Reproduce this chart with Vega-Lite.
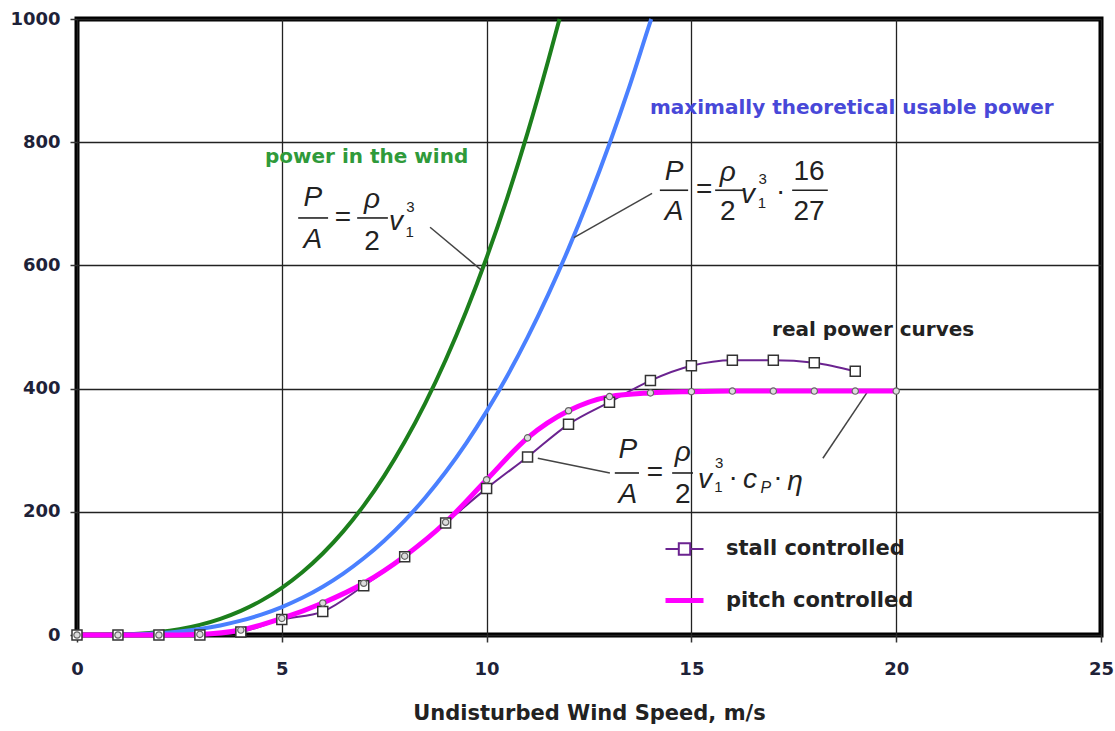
{
  "$schema": "https://vega.github.io/schema/vega-lite/v6.json",
  "width": 1024,
  "height": 616,
  "autosize": "none",
  "padding": {"left": 77, "top": 19, "right": 14, "bottom": 96},
  "background": "white",
  "config": {
    "view": {"stroke": "black", "strokeWidth": 5},
    "axis": {
      "grid": true, "gridColor": "#222", "gridWidth": 1.3, "domain": false,
      "ticks": true, "tickColor": "#333", "tickWidth": 1.5, "tickSize": 7,
      "labelFont": "DejaVu Sans", "labelFontWeight": "bold", "labelFontSize": 18, "labelColor": "#1e2238",
      "titleFont": "DejaVu Sans", "titleFontWeight": "bold", "titleFontSize": 21, "titleColor": "#222"
    }
  },
  "datasets": {
    "theory": [
      {"v": 0, "p": 0, "c": "wind"}, {"v": 0.5, "p": 0.08, "c": "wind"}, {"v": 1, "p": 0.61, "c": "wind"}, {"v": 1.5, "p": 2.07, "c": "wind"},
      {"v": 2, "p": 4.9, "c": "wind"}, {"v": 2.5, "p": 9.57, "c": "wind"}, {"v": 3, "p": 16.5, "c": "wind"}, {"v": 3.5, "p": 26.3, "c": "wind"},
      {"v": 4, "p": 39.2, "c": "wind"}, {"v": 4.5, "p": 55.8, "c": "wind"}, {"v": 5, "p": 76.6, "c": "wind"}, {"v": 5.5, "p": 101.9, "c": "wind"},
      {"v": 6, "p": 132.3, "c": "wind"}, {"v": 6.5, "p": 168.2, "c": "wind"}, {"v": 7, "p": 210.1, "c": "wind"}, {"v": 7.5, "p": 258.4, "c": "wind"},
      {"v": 8, "p": 313.6, "c": "wind"}, {"v": 8.5, "p": 376.1, "c": "wind"}, {"v": 9, "p": 446.5, "c": "wind"}, {"v": 9.5, "p": 525.2, "c": "wind"},
      {"v": 10, "p": 612.5, "c": "wind"}, {"v": 10.5, "p": 709, "c": "wind"}, {"v": 11, "p": 815.2, "c": "wind"}, {"v": 11.5, "p": 931.4, "c": "wind"},
      {"v": 11.78, "p": 1000, "c": "wind"},
      {"v": 0, "p": 0, "c": "betz"}, {"v": 0.5, "p": 0.05, "c": "betz"}, {"v": 1, "p": 0.36, "c": "betz"}, {"v": 1.5, "p": 1.23, "c": "betz"},
      {"v": 2, "p": 2.9, "c": "betz"}, {"v": 2.5, "p": 5.67, "c": "betz"}, {"v": 3, "p": 9.8, "c": "betz"}, {"v": 3.5, "p": 15.56, "c": "betz"},
      {"v": 4, "p": 23.23, "c": "betz"}, {"v": 4.5, "p": 33.08, "c": "betz"}, {"v": 5, "p": 45.37, "c": "betz"}, {"v": 5.5, "p": 60.39, "c": "betz"},
      {"v": 6, "p": 78.4, "c": "betz"}, {"v": 6.5, "p": 99.68, "c": "betz"}, {"v": 7, "p": 124.5, "c": "betz"}, {"v": 7.5, "p": 153.1, "c": "betz"},
      {"v": 8, "p": 185.8, "c": "betz"}, {"v": 8.5, "p": 222.9, "c": "betz"}, {"v": 9, "p": 264.6, "c": "betz"}, {"v": 9.5, "p": 311.2, "c": "betz"},
      {"v": 10, "p": 363, "c": "betz"}, {"v": 10.5, "p": 420.2, "c": "betz"}, {"v": 11, "p": 483.1, "c": "betz"}, {"v": 11.5, "p": 552.1, "c": "betz"},
      {"v": 12, "p": 627.2, "c": "betz"}, {"v": 12.5, "p": 708.9, "c": "betz"}, {"v": 13, "p": 797.4, "c": "betz"}, {"v": 13.5, "p": 893, "c": "betz"},
      {"v": 14, "p": 996, "c": "betz"}, {"v": 14.02, "p": 1000, "c": "betz"}
    ],
    "real": [
      {"v": 0, "p": 0, "series": "stall controlled"}, {"v": 1, "p": 0, "series": "stall controlled"}, {"v": 2, "p": 0, "series": "stall controlled"},
      {"v": 3, "p": 0, "series": "stall controlled"}, {"v": 4, "p": 5, "series": "stall controlled"}, {"v": 5, "p": 25, "series": "stall controlled"},
      {"v": 6, "p": 38, "series": "stall controlled"}, {"v": 7, "p": 80, "series": "stall controlled"}, {"v": 8, "p": 127, "series": "stall controlled"},
      {"v": 9, "p": 182, "series": "stall controlled"}, {"v": 10, "p": 238, "series": "stall controlled"}, {"v": 11, "p": 289, "series": "stall controlled"},
      {"v": 12, "p": 342, "series": "stall controlled"}, {"v": 13, "p": 378, "series": "stall controlled"}, {"v": 14, "p": 413, "series": "stall controlled"},
      {"v": 15, "p": 437, "series": "stall controlled"}, {"v": 16, "p": 446, "series": "stall controlled"}, {"v": 17, "p": 446, "series": "stall controlled"},
      {"v": 18, "p": 442, "series": "stall controlled"}, {"v": 19, "p": 428, "series": "stall controlled"},
      {"v": 0, "p": 0, "series": "pitch controlled"}, {"v": 1, "p": 0, "series": "pitch controlled"}, {"v": 2, "p": 0, "series": "pitch controlled"},
      {"v": 3, "p": 1, "series": "pitch controlled"}, {"v": 4, "p": 8, "series": "pitch controlled"}, {"v": 5, "p": 27, "series": "pitch controlled"},
      {"v": 6, "p": 52, "series": "pitch controlled"}, {"v": 7, "p": 84, "series": "pitch controlled"}, {"v": 8, "p": 128, "series": "pitch controlled"},
      {"v": 9, "p": 183, "series": "pitch controlled"}, {"v": 10, "p": 252, "series": "pitch controlled"}, {"v": 11, "p": 320, "series": "pitch controlled"},
      {"v": 12, "p": 364, "series": "pitch controlled"}, {"v": 13, "p": 387, "series": "pitch controlled"}, {"v": 14, "p": 393, "series": "pitch controlled"},
      {"v": 15, "p": 395, "series": "pitch controlled"}, {"v": 16, "p": 396, "series": "pitch controlled"}, {"v": 17, "p": 396, "series": "pitch controlled"},
      {"v": 18, "p": 396, "series": "pitch controlled"}, {"v": 19, "p": 396, "series": "pitch controlled"}, {"v": 20, "p": 396, "series": "pitch controlled"}
    ],
    "labels": [
      {"x": 4.59, "y": 776, "t": "power in the wind", "cls": "green"},
      {"x": 13.99, "y": 855, "t": "maximally theoretical usable power", "cls": "blue"},
      {"x": 16.97, "y": 495, "t": "real power curves", "cls": "black"}
    ],
    "formula": [
      {"x": 5.76, "y": 709, "t": "P", "part": "var"}, {"x": 5.76, "y": 641, "t": "A", "part": "var"},
      {"x": 6.49, "y": 677, "t": "=", "part": "op"}, {"x": 7.2, "y": 706, "t": "ρ", "part": "var"},
      {"x": 7.2, "y": 638, "t": "2", "part": "num"}, {"x": 7.79, "y": 670, "t": "v", "part": "var"},
      {"x": 8.14, "y": 694, "t": "3", "part": "script"}, {"x": 8.12, "y": 655, "t": "1", "part": "script"},
      {"x": 14.58, "y": 752, "t": "P", "part": "var"}, {"x": 14.58, "y": 687, "t": "A", "part": "var"},
      {"x": 15.31, "y": 722, "t": "=", "part": "op"}, {"x": 15.89, "y": 750, "t": "ρ", "part": "var"},
      {"x": 15.89, "y": 687, "t": "2", "part": "num"}, {"x": 16.38, "y": 714, "t": "v", "part": "var"},
      {"x": 16.74, "y": 740, "t": "3", "part": "script"}, {"x": 16.72, "y": 701, "t": "1", "part": "script"},
      {"x": 17.18, "y": 719, "t": "·", "part": "op"}, {"x": 17.87, "y": 752, "t": "16", "part": "num"},
      {"x": 17.87, "y": 687, "t": "27", "part": "num"},
      {"x": 13.45, "y": 300, "t": "P", "part": "var"}, {"x": 13.45, "y": 227, "t": "A", "part": "var"},
      {"x": 14.11, "y": 263, "t": "=", "part": "op"}, {"x": 14.79, "y": 295, "t": "ρ", "part": "var"},
      {"x": 14.79, "y": 227, "t": "2", "part": "num"}, {"x": 15.33, "y": 252, "t": "v", "part": "var"},
      {"x": 15.68, "y": 279, "t": "3", "part": "script"}, {"x": 15.66, "y": 240, "t": "1", "part": "script"},
      {"x": 16.02, "y": 255, "t": "·", "part": "op"}, {"x": 16.43, "y": 252, "t": "c", "part": "var"},
      {"x": 16.82, "y": 238, "t": "P", "part": "svar"}, {"x": 17.11, "y": 255, "t": "·", "part": "op"},
      {"x": 17.53, "y": 248, "t": "η", "part": "var"}
    ],
    "bars": [
      {"x": 5.4, "x2": 6.13, "y": 677}, {"x": 6.84, "x2": 7.59, "y": 677},
      {"x": 14.23, "x2": 14.92, "y": 722}, {"x": 15.58, "x2": 16.31, "y": 722}, {"x": 17.46, "x2": 18.33, "y": 722},
      {"x": 13.13, "x2": 13.72, "y": 263}, {"x": 14.53, "x2": 15.04, "y": 263}
    ],
    "leaders": [
      {"x": 8.62, "y": 662, "x2": 9.88, "y2": 592},
      {"x": 14.04, "y": 717, "x2": 12.13, "y2": 645},
      {"x": 11.25, "y": 287, "x2": 13.01, "y2": 263},
      {"x": 18.21, "y": 287, "x2": 19.29, "y2": 394}
    ]
  },
  "encoding": {
    "x": {"field": "v", "type": "quantitative", "scale": {"domain": [0, 25], "nice": false},
          "axis": {"values": [0, 5, 10, 15, 20, 25], "title": "Undisturbed Wind Speed, m/s", "labelPadding": 18, "titlePadding": 24, "labelFlush": false}},
    "y": {"field": "p", "type": "quantitative", "scale": {"domain": [0, 1000], "nice": false},
          "axis": {"values": [0, 200, 400, 600, 800, 1000], "format": "d", "title": null, "labelPadding": 10}}
  },
  "layer": [
    {
      "data": {"name": "theory"},
      "transform": [{"filter": "datum.c === 'wind'"}],
      "mark": {"type": "line", "color": "#1c7f1c", "strokeWidth": 4, "interpolate": "monotone"}
    },
    {
      "data": {"name": "theory"},
      "transform": [{"filter": "datum.c === 'betz'"}],
      "mark": {"type": "line", "color": "#4a80ff", "strokeWidth": 4, "interpolate": "monotone"}
    },
    {
      "data": {"name": "leaders"},
      "mark": {"type": "rule", "color": "#444", "strokeWidth": 1.5},
      "encoding": {
        "x": {"field": "x", "type": "quantitative"}, "y": {"field": "y", "type": "quantitative"},
        "x2": {"field": "x2"}, "y2": {"field": "y2"}
      }
    },
    {
      "data": {"name": "real"},
      "mark": {"type": "line", "interpolate": "monotone"},
      "encoding": {
        "color": {"field": "series", "type": "nominal",
          "scale": {"domain": ["pitch controlled", "stall controlled"], "range": ["#ff00ff", "#6b2390"]},
          "legend": {
            "orient": "none", "legendX": 586, "legendY": 510, "title": null, "padding": 0,
            "values": ["stall controlled", "pitch controlled"],
            "symbolSize": 1444, "rowPadding": 20, "labelOffset": 20, "labelLimit": 400,
            "symbolFillColor": "white",
            "labelFont": "DejaVu Sans", "labelFontWeight": "bold", "labelFontSize": 21, "labelColor": "#222",
            "encode": {"symbols": {"update": {
              "shape": {"signal": "datum.value === 'stall controlled' ? 'M-1,0H-0.3M0.3,0H1M-0.3,-0.3H0.3V0.3H-0.3Z' : 'M-1,0H1'"},
              "strokeWidth": {"signal": "datum.value === 'stall controlled' ? 2 : 5"},
              "fill": {"value": "white"}
            }}}
          }
        },
        "strokeWidth": {"field": "series", "type": "nominal",
          "scale": {"domain": ["pitch controlled", "stall controlled"], "range": [5, 2]}, "legend": null}
      }
    },
    {
      "data": {"name": "real"},
      "transform": [{"filter": "datum.series === 'stall controlled'"}],
      "mark": {"type": "point", "shape": "square", "filled": true, "fill": "white", "stroke": "#333", "strokeWidth": 1.5, "size": 100, "opacity": 1}
    },
    {
      "data": {"name": "real"},
      "transform": [{"filter": "datum.series === 'pitch controlled'"}],
      "mark": {"type": "point", "shape": "circle", "filled": true, "fill": "#ddd", "stroke": "#666", "strokeWidth": 1.2, "size": 40, "opacity": 1}
    },
    {
      "data": {"name": "labels"},
      "transform": [{"filter": "datum.cls === 'green'"}],
      "mark": {"type": "text", "align": "left", "baseline": "middle", "font": "DejaVu Sans", "fontWeight": "bold", "fontSize": 20, "color": "#2f9a3a"},
      "encoding": {"x": {"field": "x", "type": "quantitative"}, "y": {"field": "y", "type": "quantitative"}, "text": {"field": "t"}}
    },
    {
      "data": {"name": "labels"},
      "transform": [{"filter": "datum.cls === 'blue'"}],
      "mark": {"type": "text", "align": "left", "baseline": "middle", "font": "DejaVu Sans", "fontWeight": "bold", "fontSize": 20, "color": "#4848d8"},
      "encoding": {"x": {"field": "x", "type": "quantitative"}, "y": {"field": "y", "type": "quantitative"}, "text": {"field": "t"}}
    },
    {
      "data": {"name": "labels"},
      "transform": [{"filter": "datum.cls === 'black'"}],
      "mark": {"type": "text", "align": "left", "baseline": "middle", "font": "DejaVu Sans", "fontWeight": "bold", "fontSize": 20, "color": "#222"},
      "encoding": {"x": {"field": "x", "type": "quantitative"}, "y": {"field": "y", "type": "quantitative"}, "text": {"field": "t"}}
    },
    {
      "data": {"name": "formula"},
      "transform": [{"filter": "datum.part === 'var'"}],
      "mark": {"type": "text", "align": "center", "baseline": "middle", "font": "Liberation Sans", "fontStyle": "italic", "fontSize": 28, "color": "#222"},
      "encoding": {"x": {"field": "x", "type": "quantitative"}, "y": {"field": "y", "type": "quantitative"}, "text": {"field": "t"}}
    },
    {
      "data": {"name": "formula"},
      "transform": [{"filter": "datum.part === 'num' || datum.part === 'op'"}],
      "mark": {"type": "text", "align": "center", "baseline": "middle", "font": "Liberation Sans", "fontSize": 28, "color": "#222"},
      "encoding": {"x": {"field": "x", "type": "quantitative"}, "y": {"field": "y", "type": "quantitative"}, "text": {"field": "t"}}
    },
    {
      "data": {"name": "formula"},
      "transform": [{"filter": "datum.part === 'script'"}],
      "mark": {"type": "text", "align": "center", "baseline": "middle", "font": "Liberation Sans", "fontSize": 15, "color": "#222"},
      "encoding": {"x": {"field": "x", "type": "quantitative"}, "y": {"field": "y", "type": "quantitative"}, "text": {"field": "t"}}
    },
    {
      "data": {"name": "formula"},
      "transform": [{"filter": "datum.part === 'svar'"}],
      "mark": {"type": "text", "align": "center", "baseline": "middle", "font": "Liberation Sans", "fontStyle": "italic", "fontSize": 16, "color": "#222"},
      "encoding": {"x": {"field": "x", "type": "quantitative"}, "y": {"field": "y", "type": "quantitative"}, "text": {"field": "t"}}
    },
    {
      "data": {"name": "bars"},
      "mark": {"type": "rule", "color": "#222", "strokeWidth": 1.6},
      "encoding": {"x": {"field": "x", "type": "quantitative"}, "x2": {"field": "x2"}, "y": {"field": "y", "type": "quantitative"}}
    }
  ]
}
